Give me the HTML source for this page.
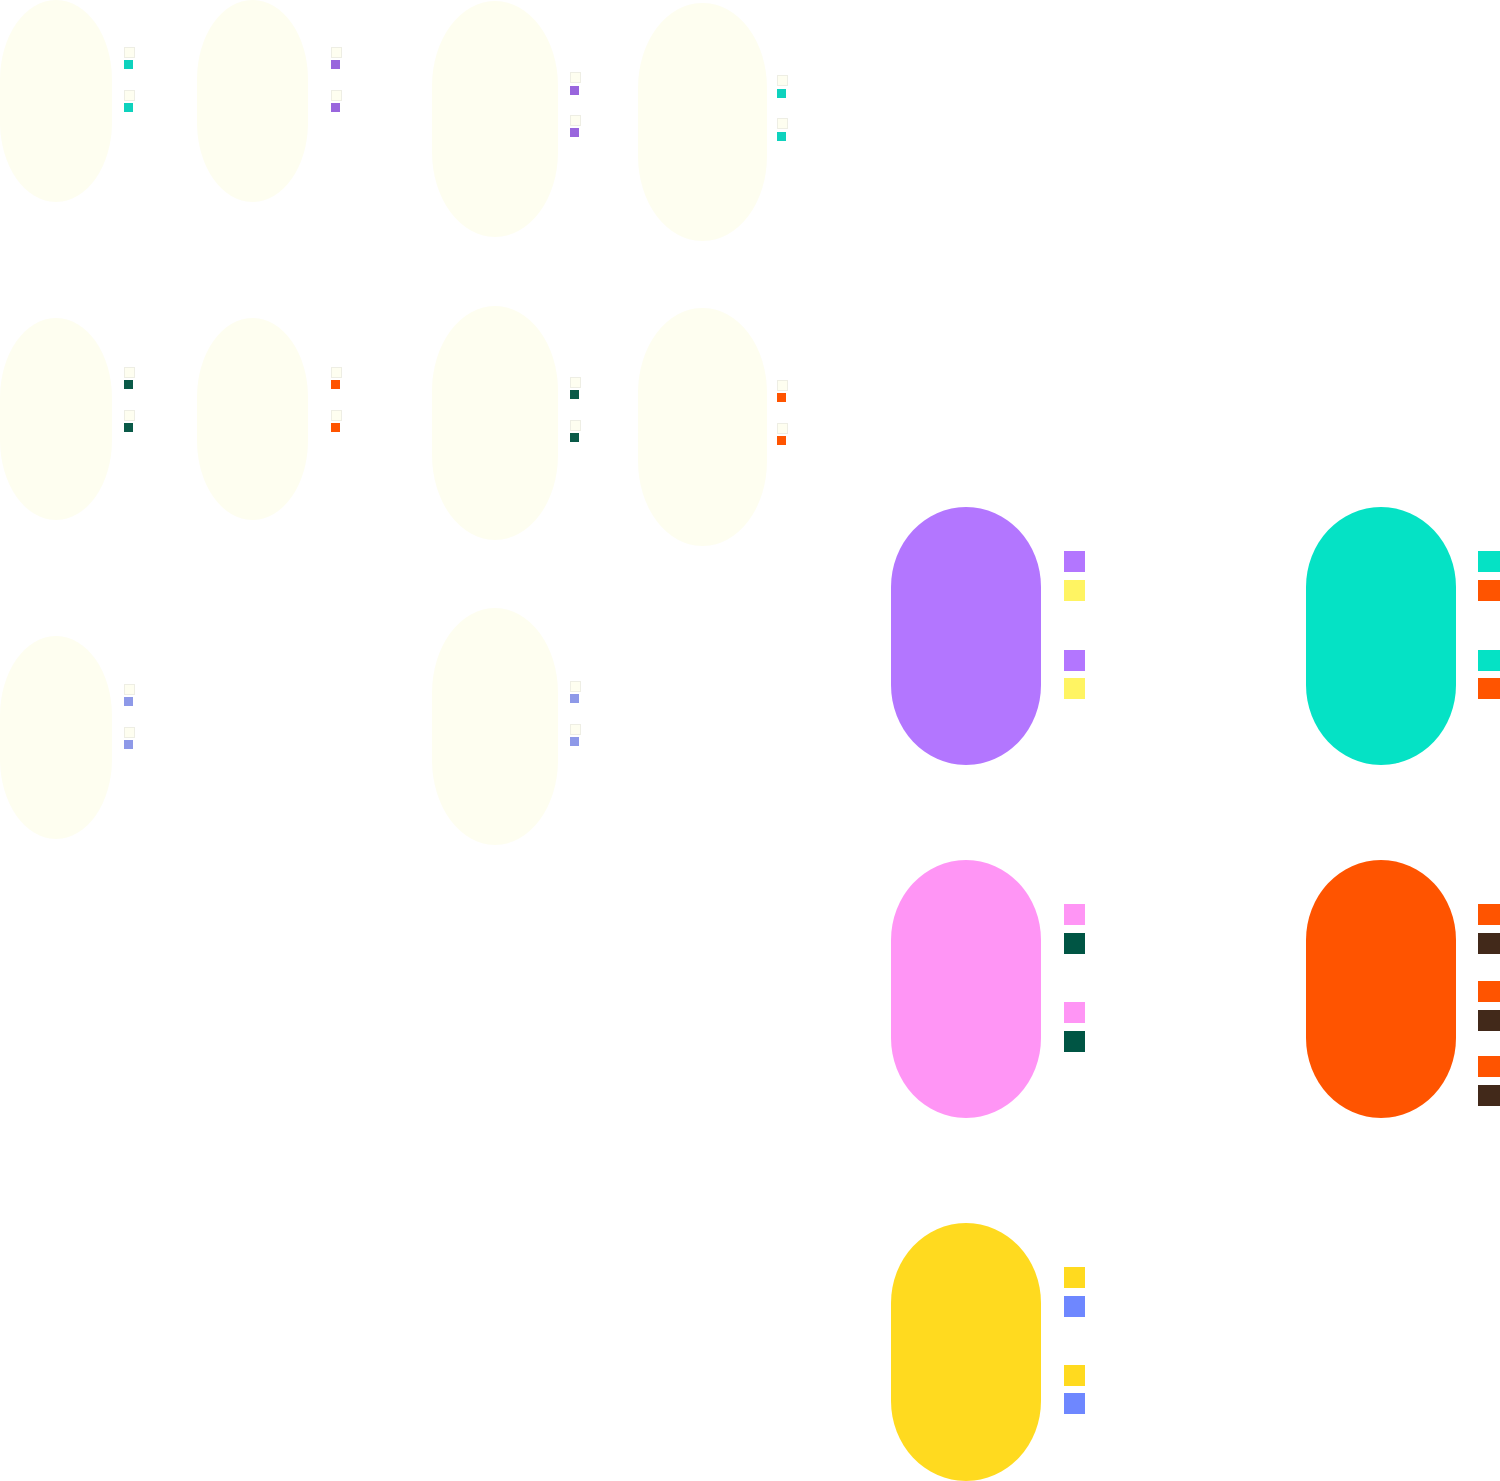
<!DOCTYPE html>
<html><head><style>
html,body{margin:0;padding:0;background:#fff;width:1500px;height:1481px;overflow:hidden;position:relative}
div{position:absolute}
.p{background:#FEFEF0;border-radius:56px/80px}
.s{width:9px;height:9px}
.w{background:#FEFEF0;outline:1px solid #eeeee4;}
.b{width:150px;height:258px;border-radius:75px/80px}
.q{width:21px;height:21px}
</style></head><body>
<!-- faint pills -->
<div class="p" style="left:0;top:0;width:112px;height:202px"></div>
<div class="p" style="left:197px;top:0;width:111px;height:202px"></div>
<div class="p" style="left:432px;top:1px;width:126px;height:236px;border-radius:63px/85px"></div>
<div class="p" style="left:638px;top:3px;width:129px;height:238px;border-radius:64px/85px"></div>
<div class="p" style="left:0;top:318px;width:112px;height:202px"></div>
<div class="p" style="left:197px;top:318px;width:111px;height:202px"></div>
<div class="p" style="left:432px;top:306px;width:126px;height:234px;border-radius:63px/85px"></div>
<div class="p" style="left:638px;top:308px;width:129px;height:238px;border-radius:64px/85px"></div>
<div class="p" style="left:0;top:636px;width:112px;height:203px"></div>
<div class="p" style="left:432px;top:608px;width:126px;height:237px;border-radius:63px/85px"></div>
<!-- small squares -->
<div class="s w" style="left:125px;top:48px"></div><div class="s" style="left:124px;top:60px;background:#0ED2BD"></div>
<div class="s w" style="left:125px;top:91px"></div><div class="s" style="left:124px;top:103px;background:#0ED2BD"></div>
<div class="s w" style="left:332px;top:48px"></div><div class="s" style="left:331px;top:60px;background:#9966DD"></div>
<div class="s w" style="left:332px;top:91px"></div><div class="s" style="left:331px;top:103px;background:#9966DD"></div>
<div class="s w" style="left:571px;top:73px"></div><div class="s" style="left:570px;top:86px;background:#9966DD"></div>
<div class="s w" style="left:571px;top:116px"></div><div class="s" style="left:570px;top:128px;background:#9966DD"></div>
<div class="s w" style="left:778px;top:76px"></div><div class="s" style="left:777px;top:89px;background:#0ED2BD"></div>
<div class="s w" style="left:778px;top:119px"></div><div class="s" style="left:777px;top:132px;background:#0ED2BD"></div>

<div class="s w" style="left:125px;top:368px"></div><div class="s" style="left:124px;top:380px;background:#0A5A48"></div>
<div class="s w" style="left:125px;top:411px"></div><div class="s" style="left:124px;top:423px;background:#0A5A48"></div>
<div class="s w" style="left:332px;top:368px"></div><div class="s" style="left:331px;top:380px;background:#FF5400"></div>
<div class="s w" style="left:332px;top:411px"></div><div class="s" style="left:331px;top:423px;background:#FF5400"></div>
<div class="s w" style="left:571px;top:378px"></div><div class="s" style="left:570px;top:390px;background:#0A5A48"></div>
<div class="s w" style="left:571px;top:421px"></div><div class="s" style="left:570px;top:433px;background:#0A5A48"></div>
<div class="s w" style="left:778px;top:381px"></div><div class="s" style="left:777px;top:393px;background:#FF5400"></div>
<div class="s w" style="left:778px;top:424px"></div><div class="s" style="left:777px;top:436px;background:#FF5400"></div>

<div class="s w" style="left:125px;top:685px"></div><div class="s" style="left:124px;top:697px;background:#8E99E8"></div>
<div class="s w" style="left:125px;top:728px"></div><div class="s" style="left:124px;top:740px;background:#8E99E8"></div>
<div class="s w" style="left:571px;top:682px"></div><div class="s" style="left:570px;top:694px;background:#8E99E8"></div>
<div class="s w" style="left:571px;top:725px"></div><div class="s" style="left:570px;top:737px;background:#8E99E8"></div>

<!-- big pills -->
<div class="b" style="left:891px;top:507px;background:#B376FF"></div>
<div class="q" style="left:1064px;top:551px;background:#B376FF"></div>
<div class="q" style="left:1064px;top:580px;background:#FFF462"></div>
<div class="q" style="left:1064px;top:650px;background:#B376FF"></div>
<div class="q" style="left:1064px;top:678px;background:#FFF462"></div>

<div class="b" style="left:1306px;top:507px;background:#05E2C5"></div>
<div class="q" style="left:1478px;top:551px;width:22px;background:#05E2C5"></div>
<div class="q" style="left:1478px;top:580px;width:22px;background:#FF5400"></div>
<div class="q" style="left:1478px;top:650px;width:22px;background:#05E2C5"></div>
<div class="q" style="left:1478px;top:678px;width:22px;background:#FF5400"></div>

<div class="b" style="left:891px;top:860px;background:#FF95F5"></div>
<div class="q" style="left:1064px;top:904px;background:#FF95F5"></div>
<div class="q" style="left:1064px;top:933px;background:#005544"></div>
<div class="q" style="left:1064px;top:1002px;background:#FF95F5"></div>
<div class="q" style="left:1064px;top:1031px;background:#005544"></div>

<div class="b" style="left:1306px;top:860px;background:#FF5400"></div>
<div class="q" style="left:1478px;top:904px;width:22px;background:#FF5400"></div>
<div class="q" style="left:1478px;top:933px;width:22px;background:#42291A"></div>
<div class="q" style="left:1478px;top:981px;width:22px;background:#FF5400"></div>
<div class="q" style="left:1478px;top:1010px;width:22px;background:#42291A"></div>
<div class="q" style="left:1478px;top:1056px;width:22px;background:#FF5400"></div>
<div class="q" style="left:1478px;top:1085px;width:22px;background:#42291A"></div>

<div class="b" style="left:891px;top:1223px;background:#FFDA1F"></div>
<div class="q" style="left:1064px;top:1267px;background:#FFDA1F"></div>
<div class="q" style="left:1064px;top:1296px;background:#6E87FF"></div>
<div class="q" style="left:1064px;top:1365px;background:#FFDA1F"></div>
<div class="q" style="left:1064px;top:1393px;background:#6E87FF"></div>
</body></html>
